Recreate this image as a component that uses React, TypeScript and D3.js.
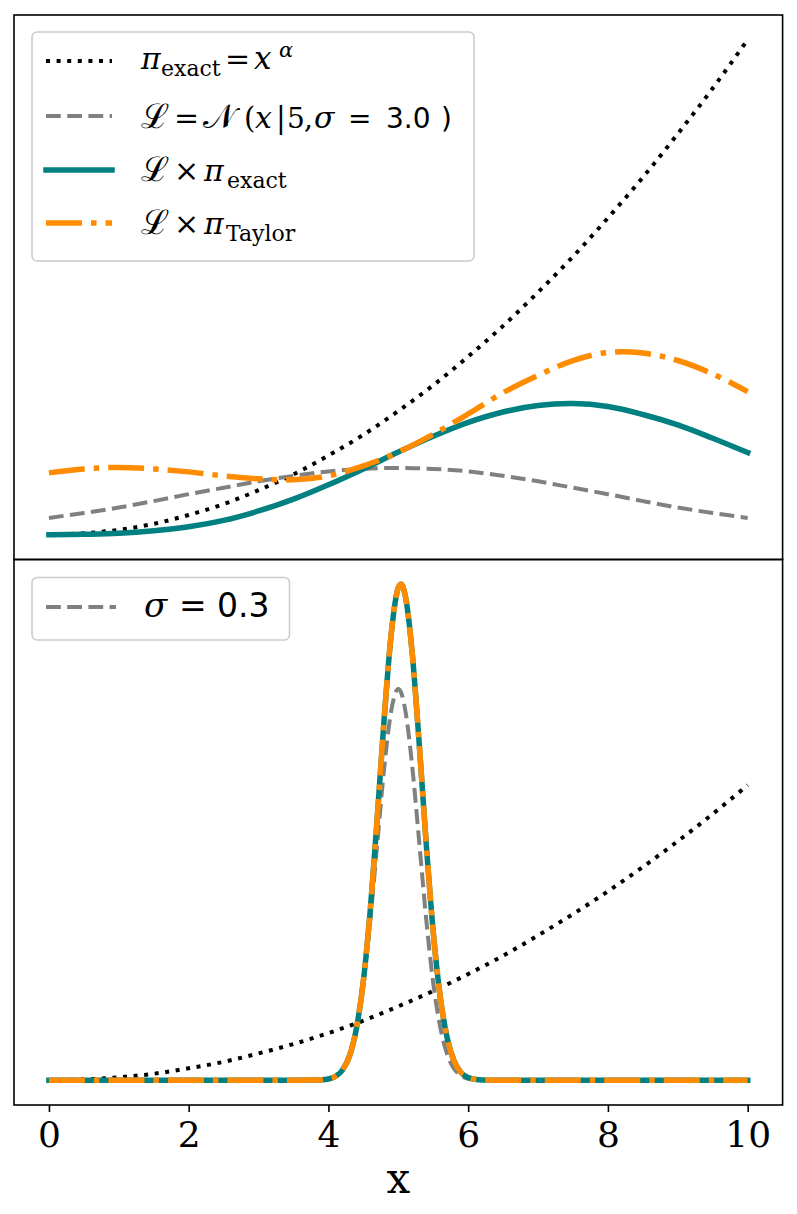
import * as React from "react";
import * as d3 from "d3";

// shared x grid (top panel + prior in bottom panel)
const xGrid = [0, 0.5, 1, 1.5, 2, 2.5, 3, 3.5, 4, 4.5, 5, 5.5, 6, 6.5, 7, 7.5, 8, 8.5, 9, 9.5, 10];

// top panel, sigma = 3.0 (plot units)
const priorWide = [0, 0.003, 0.01, 0.022, 0.04, 0.062, 0.09, 0.122, 0.16, 0.202, 0.25, 0.302, 0.36, 0.422, 0.49, 0.562, 0.64, 0.722, 0.81, 0.902, 1.0];
const likeWide = [0.034, 0.044, 0.055, 0.068, 0.082, 0.095, 0.108, 0.119, 0.128, 0.133, 0.135, 0.133, 0.128, 0.119, 0.108, 0.095, 0.082, 0.068, 0.055, 0.044, 0.034];
const exactWide = [0, 0.001, 0.003, 0.008, 0.016, 0.029, 0.048, 0.072, 0.101, 0.133, 0.167, 0.199, 0.227, 0.248, 0.261, 0.265, 0.259, 0.243, 0.222, 0.195, 0.166];
const taylorWide = [0.125, 0.133, 0.136, 0.133, 0.127, 0.119, 0.113, 0.111, 0.119, 0.139, 0.167, 0.203, 0.244, 0.287, 0.322, 0.352, 0.368, 0.367, 0.352, 0.325, 0.289];

// bottom panel, sigma = 0.3
const priorNarrow = [0, 0.0015, 0.006, 0.013, 0.024, 0.037, 0.054, 0.073, 0.095, 0.12, 0.149, 0.18, 0.214, 0.251, 0.292, 0.335, 0.381, 0.43, 0.482, 0.537, 0.595];
const xNarrow = [0, 1, 2, 3, 3.5, 3.8, 3.9, 4.0, 4.1, 4.2, 4.3, 4.4, 4.5, 4.6, 4.7, 4.8, 4.9, 5.0, 5.04, 5.1, 5.2, 5.3, 5.4, 5.5, 5.6, 5.7, 5.8, 5.9, 6.0, 6.1, 6.2, 6.5, 7, 8, 9, 10];
const likeNarrow = [0, 0, 0, 0, 0, 0, 0.001, 0.003, 0.009, 0.023, 0.052, 0.107, 0.196, 0.324, 0.479, 0.632, 0.746, 0.789, 0.782, 0.746, 0.632, 0.479, 0.324, 0.196, 0.107, 0.052, 0.023, 0.009, 0.003, 0.001, 0, 0, 0, 0, 0, 0];
const exactNarrow = [0, 0, 0, 0, 0, 0.0002, 0.0007, 0.0025, 0.0074, 0.02, 0.048, 0.104, 0.2, 0.345, 0.532, 0.733, 0.902, 0.993, 1.0, 0.977, 0.86, 0.677, 0.476, 0.299, 0.168, 0.085, 0.038, 0.015, 0.0055, 0.0018, 0.0005, 0, 0, 0, 0, 0];
const taylorNarrow = [0, 0, 0, 0, 0, 0.0002, 0.0007, 0.0025, 0.0074, 0.02, 0.048, 0.104, 0.2, 0.345, 0.532, 0.733, 0.902, 0.993, 1.0, 0.977, 0.86, 0.677, 0.476, 0.299, 0.168, 0.085, 0.038, 0.015, 0.0055, 0.0018, 0.0005, 0, 0, 0, 0, 0];

const xTicks = [0, 2, 4, 6, 8, 10];

const styles = {
  prior: { color: "#000000", width: 4, dash: "4,6.6", cap: "butt" },
  like: { color: "#808080", width: 4, dash: "14.8,6.4", cap: "butt" },
  exact: { color: "#008080", width: 5.5, dash: null, cap: "square" },
  taylor: { color: "#ff8c00", width: 5.5, dash: "36,9,5.5,9", cap: "butt" },
};

const W = 797;
const H = 1214;
const left = 14;
const right = 782.6;
const top = 15;
const mid = 559.5;
const bottom = 1105;

const serif = "'DejaVu Serif', serif";
const sans = "'DejaVu Sans', sans-serif";

function drawChart(svgRef) {
  const svg = d3.select(svgRef.current);
  svg.selectAll("*").remove();

  const x = d3.scaleLinear().domain([-0.5, 10.5]).range([left, right]);

  const padded = (lo, hi) => {
    const m = (hi - lo) * 0.05;
    return [lo - m, hi + m];
  };
  const yTop = d3
    .scaleLinear()
    .domain(padded(0, d3.max([...priorWide, ...likeWide, ...exactWide, ...taylorWide])))
    .range([mid, top]);
  const yBot = d3
    .scaleLinear()
    .domain(padded(0, d3.max([...priorNarrow, ...likeNarrow, ...exactNarrow, ...taylorNarrow])))
    .range([bottom, mid]);

  const addLine = (xs, ys, yScale, st, curve) => {
    const line = d3
      .line()
      .x((_d, i) => x(xs[i]))
      .y((d) => yScale(d))
      .curve(curve);
    svg
      .append("path")
      .attr("d", line(ys))
      .attr("fill", "none")
      .attr("stroke", st.color)
      .attr("stroke-width", st.width)
      .attr("stroke-linecap", st.cap)
      .attr("stroke-dasharray", st.dash);
  };

  const smooth = d3.curveCatmullRom.alpha(0.5);
  const mono = d3.curveMonotoneX;

  // top panel
  addLine(xGrid, priorWide, yTop, styles.prior, smooth);
  addLine(xGrid, likeWide, yTop, styles.like, smooth);
  addLine(xGrid, exactWide, yTop, styles.exact, smooth);
  addLine(xGrid, taylorWide, yTop, styles.taylor, smooth);

  // bottom panel
  addLine(xGrid, priorNarrow, yBot, styles.prior, smooth);
  addLine(xNarrow, likeNarrow, yBot, styles.like, mono);
  addLine(xNarrow, exactNarrow, yBot, styles.exact, mono);
  addLine(xNarrow, taylorNarrow, yBot, styles.taylor, mono);

  // frames
  [
    [top, mid],
    [mid, bottom],
  ].forEach(([y0, y1]) => {
    svg
      .append("rect")
      .attr("x", left)
      .attr("y", y0)
      .attr("width", right - left)
      .attr("height", y1 - y0)
      .attr("fill", "none")
      .attr("stroke", "#000")
      .attr("stroke-width", 1.6);
  });

  // x axis
  const axis = svg
    .append("g")
    .attr("transform", `translate(0,${bottom})`)
    .call(d3.axisBottom(x).tickValues(xTicks).tickSize(7).tickSizeOuter(0).tickPadding(9));
  axis.select(".domain").remove();
  axis.selectAll("line").attr("stroke", "#000").attr("stroke-width", 1.6);
  axis
    .selectAll("text")
    .attr("fill", "#000")
    .style("font-family", "'DejaVu Serif', serif")
    .style("font-size", "36px");

  svg
    .append("text")
    .attr("x", x(5))
    .attr("y", 1193)
    .attr("text-anchor", "middle")
    .style("font-family", "'DejaVu Serif', serif")
    .style("font-size", "42px")
    .text("x");

  // legends
  const legendBox = (bx, by, bw, bh) =>
    svg
      .append("rect")
      .attr("x", bx)
      .attr("y", by)
      .attr("width", bw)
      .attr("height", bh)
      .attr("rx", 5)
      .attr("fill", "#fff")
      .attr("fill-opacity", 0.8)
      .attr("stroke", "#cccccc")
      .attr("stroke-width", 1.6);

  const handle = (x0, x1, yy, st) =>
    svg
      .append("line")
      .attr("x1", x0)
      .attr("x2", x1)
      .attr("y1", yy)
      .attr("y2", yy)
      .attr("stroke", st.color)
      .attr("stroke-width", st.width)
      .attr("stroke-linecap", st.cap)
      .attr("stroke-dasharray", st.dash);

  // pieces: [text, x, font, size, italic, baseline shift]
  const mathText = (ty, pieces) => {
    const g = svg.append("g");
    pieces.forEach(([s, px, font, size, it, dy]) => {
      g.append("text")
        .attr("x", px)
        .attr("y", ty + (dy || 0))
        .attr("fill", "#000")
        .style("font-family", font)
        .style("font-size", size + "px")
        .style("font-style", it ? "italic" : "normal")
        .text(s);
    });
  };

  legendBox(32, 32, 442, 229);
  handle(46, 112, 61, styles.prior);
  handle(46, 112, 116, styles.like);
  handle(46, 112, 170, styles.exact);
  handle(46, 112, 223, styles.taylor);

  mathText(69, [
    ["π", 141, serif, 30, true, 0],
    ["exact", 161, serif, 22, false, 7],
    ["=", 225, serif, 30, false, 0],
    ["x", 254, serif, 31, true, 0],
    ["α", 279, serif, 21, true, -12],
  ]);
  mathText(128, [
    ["ℒ", 141, serif, 34, false, 0],
    ["=", 174, serif, 30, false, 0],
    ["𝒩", 203, serif, 34, false, 0],
    ["(", 244, serif, 29, false, 0],
    ["x", 255, serif, 30, true, 0],
    ["|", 276, serif, 29, false, 0],
    ["5", 287, serif, 28, false, 0],
    [",", 304, serif, 28, false, 0],
    ["σ", 314, serif, 30, true, 0],
    ["=", 348, sans, 28, false, 0],
    ["3.0", 386, sans, 28, false, 0],
    [")", 441, sans, 28, false, 0],
  ]);
  mathText(181, [
    ["ℒ", 141, serif, 34, false, 0],
    ["×", 174, serif, 30, false, 0],
    ["π", 204, serif, 30, true, 0],
    ["exact", 227, serif, 22, false, 7],
  ]);
  mathText(234, [
    ["ℒ", 141, serif, 34, false, 0],
    ["×", 174, serif, 30, false, 0],
    ["π", 204, serif, 30, true, 0],
    ["Taylor", 226, serif, 22, false, 7],
  ]);

  legendBox(32, 577.5, 257.5, 62.5);
  handle(46, 116, 607, styles.like);
  mathText(617, [
    ["σ", 144, serif, 34, true, 0],
    ["=", 179, sans, 33, false, 0],
    ["0.3", 217, sans, 33, false, 0],
  ]);
}

const App = () => {
  const svg = React.useRef(null);
  React.useEffect(() => {
    drawChart(svg);
  }, [svg]);

  return (
    <div style={{ position: "absolute", left: 0, top: 0 }}>
      <svg ref={svg} width={W} height={H} style={{ display: "block", background: "#fff" }} />
    </div>
  );
};

export default App;
